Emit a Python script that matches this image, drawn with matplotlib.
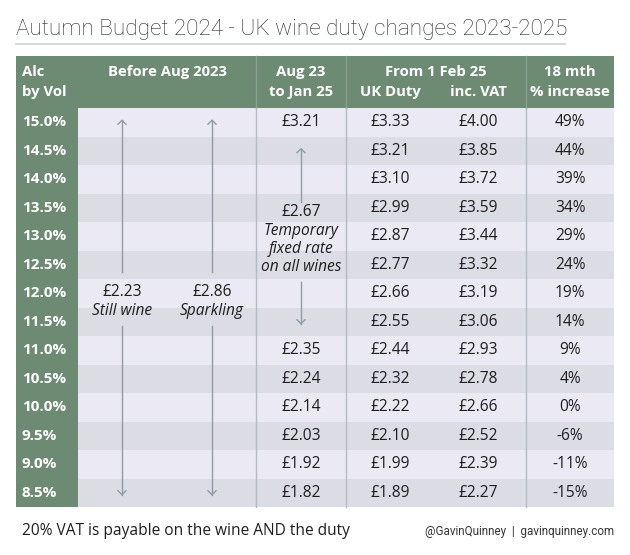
import matplotlib
matplotlib.use("Agg")
import matplotlib.pyplot as plt
from matplotlib.patches import Rectangle

# ---------------- data ----------------
title = "Autumn Budget 2024 - UK wine duty changes 2023-2025"
abv = ["15.0%", "14.5%", "14.0%", "13.5%", "13.0%", "12.5%", "12.0%",
       "11.5%", "11.0%", "10.5%", "10.0%", "9.5%", "9.0%", "8.5%"]
still_before = 2.23
sparkling_before = 2.86
fixed_rate = 2.67
aug23 = [3.21, None, None, None, None, None, None, None,
         2.35, 2.24, 2.14, 2.03, 1.92, 1.82]
uk_duty = [3.33, 3.21, 3.10, 2.99, 2.87, 2.77, 2.66, 2.55,
           2.44, 2.32, 2.22, 2.10, 1.99, 1.89]
inc_vat = [4.00, 3.85, 3.72, 3.59, 3.44, 3.32, 3.19, 3.06,
           2.93, 2.78, 2.66, 2.52, 2.39, 2.27]
pct_increase = [49, 44, 39, 34, 29, 24, 19, 14, 9, 4, 0, -6, -11, -15]
footnote = "20% VAT is payable on the wine AND the duty"
credit = "@GavinQuinney  |  gavinquinney.com"

# ---------------- style ----------------
GREEN = "#6d8a73"
HEAD_SEP = "#88a28d"
LIGHT = "#ebeaf4"
DARK = "#dcdce4"
SEP = "#b2bcc4"
ARROW = "#8c9da4"
TEXT = "#1e1e1e"
FONT = ["Open Sans", "DejaVu Sans"]

W, H = 630, 555
fig = plt.figure(figsize=(W / 100, H / 100), dpi=100)
ax = fig.add_axes([0, 0, 1, 1])
ax.set_xlim(0, W)
ax.set_ylim(H, 0)
ax.axis("off")

# layout (pixels)
left, right = 16, 614
col_b = [16, 78, 256, 346, 526, 614]
head_top, head_bot = 56, 108
n = len(abv)
row_h = (507 - head_bot) / n
bottom = head_bot + n * row_h

def rc(i):
    return head_bot + (i + 0.5) * row_h

# title
ax.text(left, 29, title, fontsize=16.2, family=["Roboto", "DejaVu Sans"],
        fontweight="light", color="#2a2a2a", va="center", ha="left")
ax.plot([left, 565], [44, 44], color="#c9cfd2", lw=1.2)

# header
ax.add_patch(Rectangle((left, head_top), right - left, head_bot - head_top,
                       color=GREEN, lw=0))
# alc column
ax.add_patch(Rectangle((col_b[0], head_bot), col_b[1] - col_b[0], bottom - head_bot,
                       color=GREEN, lw=0))
# rows
for i in range(n):
    ax.add_patch(Rectangle((col_b[1], head_bot + i * row_h), right - col_b[1], row_h,
                           color=LIGHT if i % 2 == 0 else DARK, lw=0))
# separators
for x in col_b[2:5]:
    ax.plot([x, x], [head_top, head_bot], color=HEAD_SEP, lw=1)
    ax.plot([x, x], [head_bot, bottom], color=SEP, lw=1)

hk = dict(color="white", fontweight="bold", fontsize=10.7, family=FONT, va="center")
y1, y2 = 72, 92
ax.text(22, y1, "Alc", ha="left", **hk)
ax.text(22, y2, "by Vol", ha="left", **hk)
ax.text((col_b[1] + col_b[2]) / 2, y1, "Before Aug 2023", ha="center", **hk)
ax.text((col_b[2] + col_b[3]) / 2, y1, "Aug 23", ha="center", **hk)
ax.text((col_b[2] + col_b[3]) / 2, y2, "to Jan 25", ha="center", **hk)
ax.text((col_b[3] + col_b[4]) / 2, y1, "From 1 Feb 25", ha="center", **hk)
x_duty, x_vat = 390, 478
ax.text(x_duty, y2, "UK Duty", ha="center", **hk)
ax.text(x_vat, y2, "inc. VAT", ha="center", **hk)
ax.text((col_b[4] + col_b[5]) / 2, y1, "18 mth", ha="center", **hk)
ax.text((col_b[4] + col_b[5]) / 2, y2, "% increase", ha="center", **hk)

# body text
bk = dict(color=TEXT, fontsize=11.2, family=FONT, va="center", ha="center")
x_aug = (col_b[2] + col_b[3]) / 2
x_pct = (col_b[4] + col_b[5]) / 2
for i in range(n):
    y = rc(i)
    ax.text(22, y, abv[i], ha="left", va="center", color="white",
            fontweight="bold", fontsize=11, family=FONT)
    if aug23[i] is not None:
        ax.text(x_aug, y, f"£{aug23[i]:.2f}", **bk)
    ax.text(x_duty, y, f"£{uk_duty[i]:.2f}", **bk)
    ax.text(x_vat, y, f"£{inc_vat[i]:.2f}", **bk)
    ax.text(x_pct, y, f"{pct_increase[i]}%", **bk)

def arrow_up(x, y0, y1):
    ax.plot([x, x], [y0, y1], color=ARROW, lw=1)
    ax.plot([x - 4, x, x + 4], [y0 + 4, y0, y0 + 4], color=ARROW, lw=1)

def arrow_down(x, y0, y1):
    ax.plot([x, x], [y0, y1], color=ARROW, lw=1)
    ax.plot([x - 4, x, x + 4], [y1 - 4, y1, y1 - 4], color=ARROW, lw=1)

# before Aug 2023 column
x_still, x_spark = 122, 212
for x, val, lab in [(x_still, still_before, "Still wine"),
                    (x_spark, sparkling_before, "Sparkling")]:
    arrow_up(x, rc(0) - 2, 272)
    ax.text(x, 292, f"£{val:.2f}", **bk)
    ax.text(x, 311, lab, style="italic", **bk)
    arrow_down(x, 326, rc(n - 1) + 2)

# fixed rate
arrow_up(x_aug, rc(1) - 2, 202)
ax.text(x_aug, 212, f"£{fixed_rate:.2f}", **bk)
for yy, t in zip([231, 249, 267], ["Temporary", "fixed rate", "on all wines"]):
    ax.text(x_aug, yy, t, style="italic", **bk)
arrow_down(x_aug, 282, rc(7) + 2)

# footer
ax.text(22, 531, footnote, fontsize=11.2, family=FONT, color=TEXT,
        ha="left", va="center")
ax.text(right, 531, credit, fontsize=8.4,
        family=["Roboto", "DejaVu Sans"],
        color="#333333", ha="right", va="center")

fig.savefig("out.png", dpi=100, facecolor="white")
